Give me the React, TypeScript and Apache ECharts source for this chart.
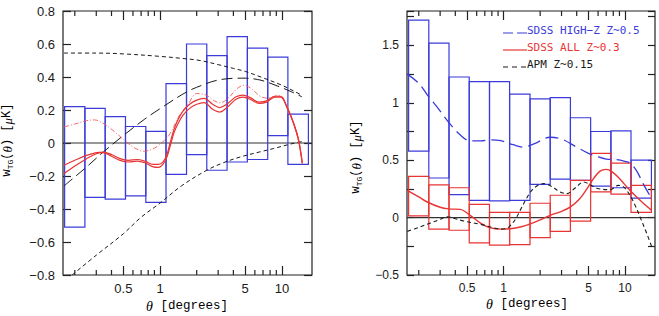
import React, { useEffect, useRef } from 'react';
import * as echarts from 'echarts';

// Angular bins (degrees) shared by both panels
const THETA_BIN_EDGES = [0.165, 0.242, 0.355, 0.521, 0.765, 1.12, 1.65, 2.42, 3.55, 5.21, 7.65, 11.2, 16.5];
const THETA_MIN = 0.16;
const THETA_MAX = 17.66;
const MAJOR_THETA_TICKS = [0.5, 1, 5, 10];
const MINOR_THETA_TICKS = [0.2, 0.3, 0.4, 0.6, 0.7, 0.8, 0.9, 2, 3, 4, 6, 7, 8, 9];

// Left panel: error boxes per bin
const LEFT_BOX_LO = [-0.51, -0.33, -0.34, -0.32, -0.36, -0.19, -0.07, -0.165, -0.115, -0.1, 0.045, -0.13];
const LEFT_BOX_HI = [0.22, 0.21, 0.16, 0.1, 0.07, 0.36, 0.6, 0.53, 0.645, 0.575, 0.52, 0.175];

// Left panel curves: [theta, w]
const LEFT_RED_UPPER = [
  [0.163, -0.135], [0.2, -0.105], [0.25, -0.075], [0.3, -0.058], [0.34, -0.055], [0.4, -0.07],
  [0.47, -0.095], [0.55, -0.105], [0.65, -0.1], [0.75, -0.11], [0.88, -0.13], [0.97, -0.13],
  [1.06, -0.115], [1.14, -0.07], [1.21, 0.0], [1.3, 0.08], [1.4, 0.14], [1.55, 0.195],
  [1.75, 0.235], [2.0, 0.26], [2.3, 0.27], [2.7, 0.235], [3.1, 0.215], [3.6, 0.24], [4.2, 0.28],
  [4.8, 0.29], [5.5, 0.275], [6.5, 0.248], [7.5, 0.255], [8.8, 0.285], [9.8, 0.282], [11, 0.22],
  [12.5, 0.12], [13.7, 0.02], [14.7, -0.12],
];
const LEFT_RED_LOWER = [
  [0.163, -0.186], [0.2, -0.14], [0.25, -0.095], [0.3, -0.065], [0.34, -0.058], [0.4, -0.08],
  [0.47, -0.105], [0.55, -0.115], [0.65, -0.11], [0.75, -0.12], [0.88, -0.145], [0.97, -0.148],
  [1.06, -0.128], [1.14, -0.085], [1.21, -0.02], [1.3, 0.06], [1.4, 0.115], [1.55, 0.17],
  [1.75, 0.21], [2.0, 0.235], [2.3, 0.245], [2.7, 0.205], [3.1, 0.188], [3.6, 0.22], [4.2, 0.265],
  [4.8, 0.278], [5.5, 0.265], [6.5, 0.24], [7.5, 0.248], [8.8, 0.278], [9.8, 0.278], [11, 0.215],
  [12.5, 0.115], [13.7, 0.015], [14.7, -0.125],
];
const LEFT_RED_DASHDOT = [
  [0.163, 0.097], [0.2, 0.115], [0.25, 0.135], [0.29, 0.14], [0.34, 0.12], [0.41, 0.077],
  [0.47, 0.04], [0.53, 0.006], [0.62, -0.03], [0.73, -0.05], [0.85, -0.04], [0.95, -0.02],
  [1.1, 0.02], [1.21, 0.057], [1.45, 0.17], [1.7, 0.235], [2.0, 0.3], [2.4, 0.29], [2.8, 0.255],
  [3.1, 0.243], [3.6, 0.27], [4.3, 0.33], [4.9, 0.35], [5.6, 0.33], [6.6, 0.285], [7.6, 0.272],
  [8.6, 0.28], [9.7, 0.287], [11, 0.222], [12.5, 0.12], [13.7, 0.02], [14.7, -0.12],
];
const LEFT_LONG_DASH = [
  [0.163, -0.26], [0.25, -0.145], [0.342, -0.055], [0.53, 0.06], [0.75, 0.145], [1.0, 0.208],
  [1.66, 0.31], [2.3, 0.355], [2.93, 0.38], [4.0, 0.392], [5.0, 0.393], [6.3, 0.385], [7.5, 0.37],
  [10, 0.335], [12, 0.31], [14.6, 0.28],
];
const LEFT_SHORT_DASH_TOP = [
  [0.163, 0.545], [0.3, 0.545], [0.5, 0.54], [1.0, 0.525], [1.5, 0.513], [2.13, 0.5], [3.0, 0.475],
  [4.0, 0.452], [5.0, 0.434], [7.0, 0.395], [10, 0.35], [12.5, 0.315], [14.6, 0.289],
];
const LEFT_SHORT_DASH_BOTTOM = [
  [0.19, -0.8], [0.3, -0.68], [0.5, -0.55], [0.7, -0.45], [1.0, -0.364], [1.5, -0.26],
  [2.42, -0.165], [3.3, -0.12], [4.54, -0.085], [6.5, -0.055], [8.5, -0.034], [11, -0.012],
  [13.7, 0.005], [14.6, 0.008],
];

// Right panel: error boxes per bin
const HIGHZ_BOX_LO = [0.58, 0.345, 0.2, 0.15, 0.145, 0.15, 0.29, 0.335, 0.325, 0.275, 0.26, 0.17];
const HIGHZ_BOX_HI = [1.72, 1.52, 1.225, 1.185, 1.185, 1.075, 1.035, 1.045, 0.87, 0.75, 0.755, 0.5];
const ALL_BOX_LO = [0.015, -0.1, -0.11, -0.22, -0.24, -0.235, -0.175, -0.12, -0.03, 0.225, 0.205, 0.045];
const ALL_BOX_HI = [0.36, 0.285, 0.26, 0.115, 0.045, 0.045, 0.125, 0.195, 0.325, 0.56, 0.475, 0.28];

// Right panel curves: [theta, w]
const HIGHZ_CURVE = [
  [0.161, 1.25], [0.2, 1.17], [0.235, 1.07], [0.29, 0.95], [0.353, 0.83], [0.44, 0.72],
  [0.53, 0.668], [0.65, 0.668], [0.78, 0.678], [0.95, 0.67], [1.2, 0.635], [1.46, 0.614],
  [1.8, 0.645], [2.42, 0.7], [3.0, 0.685], [4.0, 0.614], [5.0, 0.56], [5.85, 0.533], [7.0, 0.51],
  [8.55, 0.505], [10.0, 0.49], [11.0, 0.475], [12.5, 0.405], [14.2, 0.29], [16.6, 0.165],
];
const ALL_CURVE = [
  [0.161, 0.237], [0.2, 0.18], [0.235, 0.136], [0.3, 0.09], [0.353, 0.076], [0.44, 0.072],
  [0.53, 0.02], [0.65, -0.05], [0.78, -0.09], [0.94, -0.1], [1.135, -0.097], [1.4, -0.08],
  [1.66, -0.055], [2.0, -0.02], [2.42, 0.02], [3.0, 0.055], [3.53, 0.092], [4.2, 0.16],
  [4.85, 0.25], [5.5, 0.34], [6.23, 0.405], [7.0, 0.42], [7.8, 0.4], [9.1, 0.335], [10.5, 0.26],
  [11.7, 0.208], [14, 0.13], [16.6, 0.063],
];
const APM_CURVE = [
  [0.161, -0.12], [0.2, -0.085], [0.25, -0.047], [0.3, -0.015], [0.343, 0.008], [0.4, -0.01],
  [0.469, -0.03], [0.644, -0.058], [0.8, -0.085], [0.94, -0.1], [1.05, -0.095], [1.135, -0.07],
  [1.25, -0.015], [1.37, 0.063], [1.55, 0.17], [1.76, 0.252], [2.13, 0.296], [2.5, 0.27],
  [2.92, 0.223], [3.32, 0.209], [3.9, 0.26], [4.54, 0.31], [5.2, 0.285], [5.85, 0.255],
  [7.53, 0.243], [8.81, 0.281], [9.8, 0.265], [10.99, 0.194], [12.2, 0.1], [13.3, 0.005],
  [15, -0.13], [16.6, -0.255],
];

const LEGEND_LABELS = ['SDSS HIGH\u2212Z Z~0.5', 'SDSS ALL Z~0.3', 'APM Z~0.15'];

const LEFT_Y_RANGE = [-0.8, 0.8];
const RIGHT_Y_RANGE = [-0.5, 1.8];

const BLUE = '#3b3bdc';
const RED = '#e83434';
const BLACK = '#1a1a1a';
const FRAME = '#222222';

const LEFT_GRID = { left: 63, top: 11, width: 249, height: 264 };
const RIGHT_GRID = { left: 407, top: 11, width: 248, height: 264 };

function minusFmt(v: number, step: number): string {
  const r = Math.round(v / step) * step;
  const s = String(Math.round(Math.abs(r) * 100) / 100);
  if (Math.abs(r) < 1e-9) return '0';
  return r < 0 ? '\u2212' + s : s;
}

function thetaAxis(gridIndex: number, position: string, withLabels: boolean, fontSize: number) {
  return {
    type: 'log',
    logBase: 10,
    gridIndex,
    position,
    min: THETA_MIN,
    max: THETA_MAX,
    axisLine: { show: false, onZero: false },
    splitLine: { show: false },
    axisTick: { show: true, inside: true, length: 9, customValues: MAJOR_THETA_TICKS, lineStyle: { color: FRAME, width: 1.2 } },
    axisLabel: withLabels
      ? {
          show: true,
          customValues: MAJOR_THETA_TICKS,
          formatter: (v: number) => String(Math.round(v * 100) / 100),
          fontFamily: 'Liberation Sans',
          fontSize,
          color: BLACK,
          margin: 7,
        }
      : { show: false },
  };
}

// Short minor ticks on the bottom and top edges of a panel
function minorTickSeries(xAxisIndex: number, yAxisIndex: number, yRange: number[]) {
  return {
    type: 'custom',
    xAxisIndex,
    yAxisIndex,
    data: MINOR_THETA_TICKS.map((v) => [v, yRange[0]]),
    encode: { x: 0, y: 1 },
    silent: true,
    z: 4,
    renderItem: (_params: any, api: any) => {
      const v = api.value(0);
      const b = api.coord([v, yRange[0]]);
      const t = api.coord([v, yRange[1]]);
      const st = { stroke: FRAME, lineWidth: 1.2 };
      return {
        type: 'group',
        children: [
          { type: 'line', shape: { x1: b[0], y1: b[1], x2: b[0], y2: b[1] - 5 }, style: st },
          { type: 'line', shape: { x1: t[0], y1: t[1], x2: t[0], y2: t[1] + 5 }, style: st },
        ],
      };
    },
  };
}

function boxSeries(xAxisIndex: number, yAxisIndex: number, lo: number[], hi: number[], color: string) {
  const data = lo.map((l, i) => [THETA_BIN_EDGES[i], THETA_BIN_EDGES[i + 1], l, hi[i]]);
  return {
    type: 'custom',
    xAxisIndex,
    yAxisIndex,
    data,
    encode: { x: [0, 1], y: [2, 3] },
    silent: true,
    z: 2,
    renderItem: (_params: any, api: any) => {
      const a = api.coord([api.value(0), api.value(3)]);
      const b = api.coord([api.value(1), api.value(2)]);
      return {
        type: 'rect',
        shape: { x: a[0], y: a[1], width: b[0] - a[0], height: b[1] - a[1] },
        style: { fill: 'none', stroke: color, lineWidth: 1.2 },
      };
    },
  };
}

function curve(xAxisIndex: number, yAxisIndex: number, pts: number[][], color: string, width: number, dash: any) {
  return {
    type: 'line',
    xAxisIndex,
    yAxisIndex,
    data: pts,
    symbol: 'none',
    showSymbol: false,
    smooth: 0.35,
    silent: true,
    z: 3,
    lineStyle: { color, width, type: dash },
  };
}

function zeroLine(xAxisIndex: number, yAxisIndex: number) {
  return {
    type: 'line',
    xAxisIndex,
    yAxisIndex,
    data: [[THETA_MIN, 0], [THETA_MAX, 0]],
    symbol: 'none',
    silent: true,
    z: 1,
    lineStyle: { color: '#333', width: 1.2 },
  };
}

export default function App() {
  const ref = useRef<HTMLDivElement>(null);

  useEffect(() => {
    if (!ref.current) return;
    const chart = echarts.init(ref.current, undefined, { renderer: 'svg' });

    const yTitleRich = {
      a: { fontFamily: 'Liberation Mono', fontSize: 12, color: BLACK },
      s: { fontFamily: 'Liberation Mono', fontSize: 8, color: BLACK, verticalAlign: 'bottom', padding: [6, 0, 0, 0] },
      t: { fontFamily: 'Liberation Serif', fontStyle: 'italic', fontSize: 13, color: BLACK },
    };
    const xTitleRich = {
      t: { fontFamily: 'Liberation Serif', fontStyle: 'italic', fontSize: 14, color: BLACK },
      a: { fontFamily: 'Liberation Mono', fontSize: 12.5, color: BLACK },
    };

    const legendRows = [
      { y: 30, color: BLUE, dash: [10, 4] },
      { y: 47, color: RED, dash: null },
      { y: 64, color: BLACK, dash: [5, 4] },
    ];

    const graphic: any[] = [];
    legendRows.forEach((row, i) => {
      graphic.push({
        type: 'line',
        silent: true,
        shape: { x1: 503, y1: row.y + 3, x2: 527, y2: row.y + 3 },
        style: { stroke: row.color, lineWidth: 1.2, lineDash: row.dash || undefined },
      });
      graphic.push({
        type: 'text',
        silent: true,
        x: 527,
        y: row.y,
        style: {
          text: LEGEND_LABELS[i],
          fontFamily: 'DejaVu Sans Mono',
          fontSize: 11,
          fill: row.color,
          align: 'left',
          verticalAlign: 'middle',
        },
      });
    });

    // Axis titles
    const yTitle = '{a|w}{s|TG}{a|(}{t|θ}{a|) [}{t|μ}{a|K]}';
    graphic.push({
      type: 'text', silent: true, x: 7, y: 140, rotation: Math.PI / 2,
      style: { text: yTitle, rich: yTitleRich, align: 'center', verticalAlign: 'middle' },
    });
    graphic.push({
      type: 'text', silent: true, x: 356, y: 157, rotation: Math.PI / 2,
      style: { text: yTitle, rich: yTitleRich, align: 'center', verticalAlign: 'middle' },
    });
    graphic.push({
      type: 'text', silent: true, x: 187, y: 306,
      style: { text: '{t|θ}{a| [degrees]}', rich: xTitleRich, align: 'center', verticalAlign: 'middle' },
    });
    graphic.push({
      type: 'text', silent: true, x: 527, y: 304,
      style: { text: '{t|θ}{a| [degrees]}', rich: xTitleRich, align: 'center', verticalAlign: 'middle' },
    });

    const valueAxis = (gridIndex: number, position: string, range: number[], interval: number, tickLen: number, label: any) => ({
      type: 'value', gridIndex, position, min: range[0], max: range[1], interval,
      axisLine: { show: false, onZero: false }, splitLine: { show: false },
      axisTick: { inside: true, length: tickLen, lineStyle: { color: FRAME, width: 1.2 } },
      axisLabel: label,
    });

    const option: any = {
      animation: false,
      backgroundColor: '#ffffff',
      grid: [
        { ...LEFT_GRID, show: true, borderColor: FRAME, borderWidth: 1.2, backgroundColor: 'transparent' },
        { ...RIGHT_GRID, show: true, borderColor: FRAME, borderWidth: 1.2, backgroundColor: 'transparent' },
      ],
      xAxis: [
        thetaAxis(0, 'bottom', true, 13),
        thetaAxis(0, 'top', false, 13),
        thetaAxis(1, 'bottom', true, 12),
        thetaAxis(1, 'top', false, 12),
      ],
      yAxis: [
        valueAxis(0, 'left', LEFT_Y_RANGE, 0.2, 8, {
          formatter: (v: number) => minusFmt(v, 0.2), fontFamily: 'Liberation Sans', fontSize: 13, color: BLACK, margin: 8,
        }),
        valueAxis(0, 'right', LEFT_Y_RANGE, 0.2, 8, { show: false }),
        valueAxis(1, 'left', RIGHT_Y_RANGE, 0.25, 7, {
          formatter: (v: number) => (Math.abs(v * 2 - Math.round(v * 2)) < 1e-6 ? minusFmt(v, 0.5) : ''),
          fontFamily: 'Liberation Sans', fontSize: 12, color: BLACK, margin: 8,
        }),
        valueAxis(1, 'right', RIGHT_Y_RANGE, 0.25, 7, { show: false }),
      ],
      graphic,
      series: [
        // left panel
        zeroLine(0, 0),
        minorTickSeries(0, 0, LEFT_Y_RANGE),
        boxSeries(0, 0, LEFT_BOX_LO, LEFT_BOX_HI, BLUE),
        curve(0, 0, LEFT_SHORT_DASH_TOP, BLACK, 1, [4, 3]),
        curve(0, 0, LEFT_SHORT_DASH_BOTTOM, BLACK, 1, [4, 3]),
        curve(0, 0, LEFT_LONG_DASH, BLACK, 1, [11, 5]),
        curve(0, 0, LEFT_RED_DASHDOT, '#f05a5a', 0.9, [5, 2, 1, 2]),
        curve(0, 0, LEFT_RED_UPPER, RED, 1.2, 'solid'),
        curve(0, 0, LEFT_RED_LOWER, RED, 1.2, 'solid'),
        // right panel
        zeroLine(2, 2),
        minorTickSeries(2, 2, RIGHT_Y_RANGE),
        boxSeries(2, 2, HIGHZ_BOX_LO, HIGHZ_BOX_HI, BLUE),
        boxSeries(2, 2, ALL_BOX_LO, ALL_BOX_HI, RED),
        curve(2, 2, HIGHZ_CURVE, BLUE, 1.3, [13, 6]),
        curve(2, 2, ALL_CURVE, RED, 1.4, 'solid'),
        curve(2, 2, APM_CURVE, BLACK, 1.1, [4, 3]),
      ],
    };

    chart.setOption(option);
    return () => chart.dispose();
  }, []);

  return (
    <div
      ref={ref}
      style={{ position: 'absolute', left: 0, top: 0, width: 659, height: 316, background: '#fff' }}
    />
  );
}
